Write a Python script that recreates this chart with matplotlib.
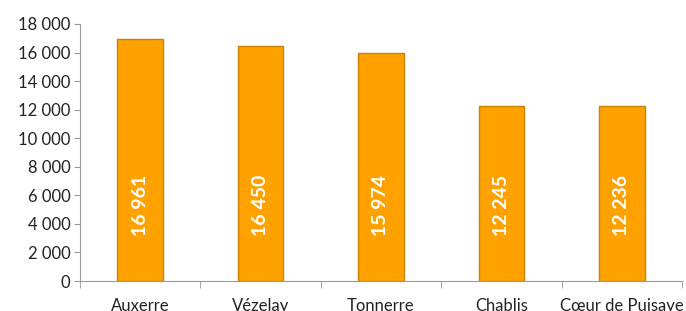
import numpy as np
import matplotlib
matplotlib.use("Agg")
from matplotlib import pyplot as plt

# data
communes = ["Auxerre", "Vézelay", "Tonnerre", "Chablis", "Cœur de Puisaye"]
values = [16961, 16450, 15974, 12245, 12236]
value_labels = ["16 961", "16 450", "15 974", "12 245", "12 236"]
y_ticks = [0, 2000, 4000, 6000, 8000, 10000, 12000, 14000, 16000, 18000]
y_tick_labels = ["0", "2 000", "4 000", "6 000", "8 000", "10 000",
                 "12 000", "14 000", "16 000", "18 000"]

plt.rcParams['font.family'] = ['Lato', 'DejaVu Sans']

fig = plt.figure(figsize=(6.86, 3.11), dpi=100)
ax = fig.add_axes([80 / 686, 1 - 281 / 311, 602 / 686, 257 / 311])

x = np.arange(len(communes))
bars = ax.bar(x, values, width=0.38, color="#FFA200", edgecolor="#C98300",
              linewidth=1.0, zorder=2)

# value labels inside the bars, rotated
for xi, lab in zip(x, value_labels):
    ax.text(xi, 5300, lab, rotation=90, ha="center", va="center",
            color="white", fontsize=14, fontweight="bold")

ax.set_xlim(-0.5, len(communes) - 0.5)
ax.set_ylim(0, 18000)
ax.set_yticks(y_ticks)
ax.set_yticklabels(y_tick_labels, fontsize=12, color="#222222")

# category labels at bar centres, tick marks between categories
ax.set_xticks(x)
ax.set_xticklabels(communes, fontsize=12, color="#222222")
ax.tick_params(axis="x", length=0, pad=12)
ax.set_xticks(np.arange(-0.5, len(communes)), minor=True)
ax.tick_params(axis="x", which="minor", length=5, color="#999999")
ax.tick_params(axis="y", length=4, color="#999999", pad=3)

for side in ["top", "right"]:
    ax.spines[side].set_visible(False)
ax.spines["left"].set_color("#999999")
ax.spines["bottom"].set_color("#999999")

fig.savefig("out.png", dpi=100)
